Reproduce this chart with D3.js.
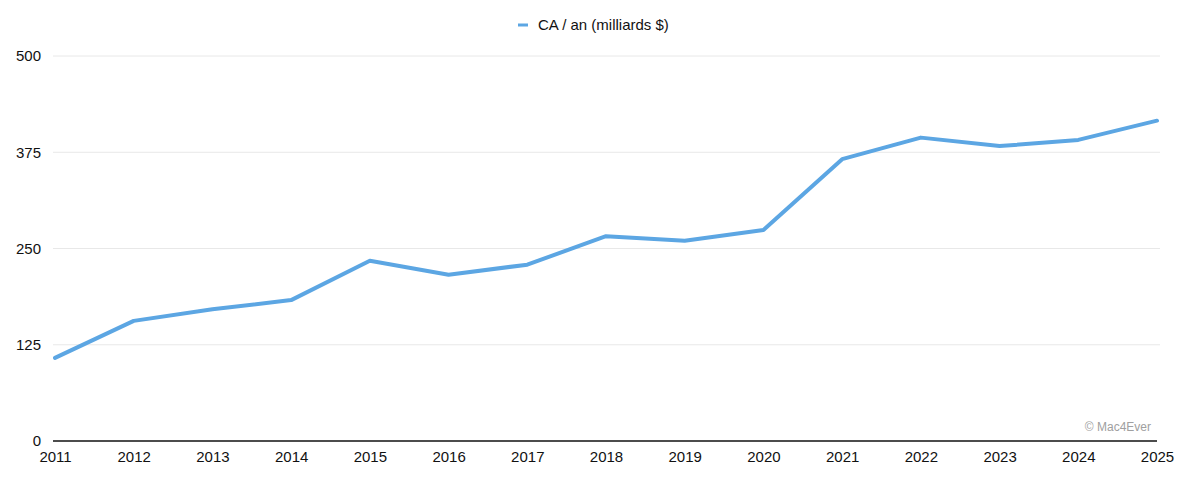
<!DOCTYPE html>
<html>
<head>
<meta charset="utf-8">
<script src="https://cdn.jsdelivr.net/npm/d3@7"></script>
<style>
  body { margin: 0; background: #fff; }
  svg { font-family: "Liberation Sans", Arial, sans-serif; }
</style>
</head>
<body>
<svg id="drawing_region"></svg>
<script>
const years = [2011, 2012, 2013, 2014, 2015, 2016, 2017, 2018, 2019, 2020, 2021, 2022, 2023, 2024, 2025];
const revenue = [108, 156, 171, 183, 234, 216, 229, 266, 260, 274, 366, 394, 383, 391, 416];
const yticks = [0, 125, 250, 375, 500];
const series_name = 'CA / an (milliards $)';

const width = 1200, height = 488;
const margin = {top: 56, right: 43, bottom: 47, left: 55};
const inner_width = width - margin.left - margin.right;
const inner_height = height - margin.top - margin.bottom;
const line_color = '#5ca6e3';

const svg = d3.select('#drawing_region')
    .attr('width', width)
    .attr('height', height);

const chart = svg.append('g')
    .attr('transform', `translate(${margin.left}, ${margin.top})`);

const xscale = d3.scalePoint()
    .domain(years)
    .range([0, inner_width]);

const yscale = d3.scaleLinear()
    .domain([0, 500])
    .range([inner_height, 0]);

// grid lines
chart.append('g')
    .selectAll('line')
    .data(yticks.filter(d => d > 0))
    .enter()
    .append('line')
    .attr('x1', -2)
    .attr('x2', inner_width + 3)
    .attr('y1', d => yscale(d))
    .attr('y2', d => yscale(d))
    .attr('stroke', '#e8e8e8')
    .attr('stroke-width', 1);

// y axis labels
const yaxis = d3.axisLeft(yscale)
    .tickValues(yticks)
    .tickSize(0)
    .tickPadding(14);
chart.append('g')
    .call(yaxis)
    .call(g => g.select('.domain').remove())
    .selectAll('text')
    .attr('font-size', '15px')
    .attr('fill', '#111');

// x axis
const xaxis = d3.axisBottom(xscale)
    .tickSize(0)
    .tickPadding(10);
chart.append('g')
    .attr('transform', `translate(0, ${inner_height})`)
    .call(xaxis)
    .call(g => g.select('.domain')
        .attr('d', `M-2,0H${inner_width}`)
        .attr('stroke', '#111')
        .attr('stroke-width', 1.5))
    .selectAll('text')
    .attr('font-size', '15px')
    .attr('fill', '#111');

// line
const line = d3.line()
    .x((d, i) => xscale(years[i]))
    .y(d => yscale(d));

chart.append('path')
    .datum(revenue)
    .attr('d', line)
    .attr('fill', 'none')
    .attr('stroke', line_color)
    .attr('stroke-width', 4)
    .attr('stroke-linejoin', 'round')
    .attr('stroke-linecap', 'round');

// legend
const legend = svg.append('g')
    .attr('transform', 'translate(518, 25)');
legend.append('line')
    .attr('x1', 0).attr('x2', 10)
    .attr('y1', 0).attr('y2', 0)
    .attr('stroke', line_color)
    .attr('stroke-width', 3);
legend.append('text')
    .attr('x', 20)
    .attr('y', 5)
    .attr('font-size', '15px')
    .attr('fill', '#111')
    .text(series_name);

// watermark
svg.append('text')
    .attr('x', 1151)
    .attr('y', 431)
    .attr('text-anchor', 'end')
    .attr('font-size', '12px')
    .attr('fill', '#a0a0a0')
    .text('© Mac4Ever');
</script>
</body>
</html>
